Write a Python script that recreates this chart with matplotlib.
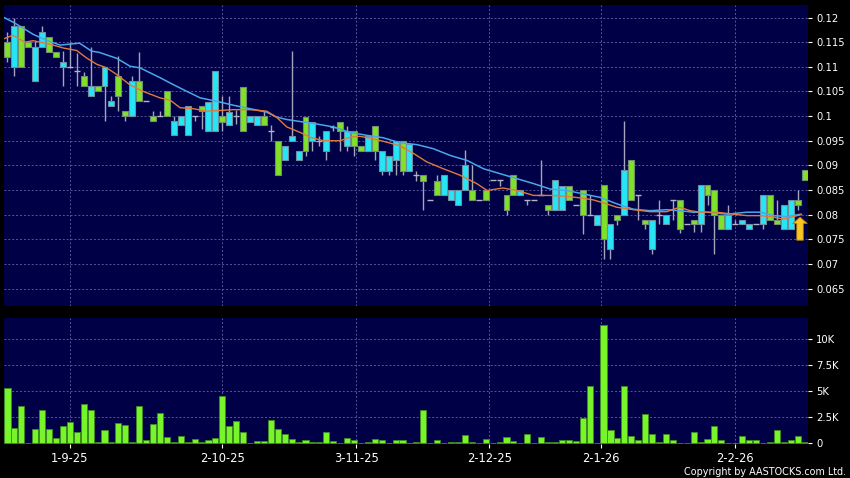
import numpy as np
import matplotlib
matplotlib.use('Agg')
import matplotlib.pyplot as plt

# daily prices (open, high, low, close)
opens = [0.1120, 0.1182, 0.1100, 0.1141, 0.1141, 0.1171, 0.1131, 0.1120, 0.1110, 0.1100,
         0.1091, 0.1061, 0.1061, 0.1051, 0.1100, 0.1031, 0.1041, 0.1000, 0.1071, 0.1031,
         0.1031, 0.0990, 0.1000, 0.1000, 0.0989, 0.1000, 0.1020, 0.1000, 0.1010, 0.1029,
         0.1091, 0.0988, 0.1009, 0.1000, 0.0970, 0.1000, 0.1000, 0.0981, 0.0970, 0.0880,
         0.0939, 0.0959, 0.0929, 0.0929, 0.0988, 0.0950, 0.0969, 0.0978, 0.0969, 0.0969,
         0.0939, 0.0929, 0.0959, 0.0929, 0.0929, 0.0918, 0.0949, 0.0889, 0.0944, 0.0880,
         0.0869, 0.0830, 0.0840, 0.0880, 0.0849, 0.0849, 0.0900, 0.0830, 0.0830, 0.0830,
         0.0871, 0.0871, 0.0810, 0.0840, 0.0850, 0.0830, 0.0830, 0.0840, 0.0810, 0.0871,
         0.0859, 0.0830, 0.0820, 0.0799, 0.0799, 0.0799, 0.0751, 0.0780, 0.0789, 0.0890,
         0.0830, 0.0840, 0.0780, 0.0789, 0.0800, 0.0800, 0.0830, 0.0771, 0.0780, 0.0780,
         0.0860, 0.0840, 0.0800, 0.0771, 0.0800, 0.0780, 0.0789, 0.0780, 0.0780, 0.0840,
         0.0789, 0.0780, 0.0820, 0.0830, 0.0820, 0.0871]
highs = [0.1171, 0.1200, 0.1182, 0.1151, 0.1152, 0.1182, 0.1161, 0.1131, 0.1132, 0.1151,
         0.1129, 0.1090, 0.1141, 0.1061, 0.1100, 0.1040, 0.1122, 0.1010, 0.1081, 0.1131,
         0.1031, 0.1010, 0.1010, 0.1051, 0.1000, 0.1000, 0.1020, 0.1000, 0.1020, 0.1029,
         0.1091, 0.1040, 0.1040, 0.1012, 0.1060, 0.1000, 0.1000, 0.1010, 0.0981, 0.0949,
         0.0939, 0.1132, 0.0929, 0.0998, 0.0988, 0.0959, 0.0969, 0.0981, 0.0988, 0.0980,
         0.0969, 0.0939, 0.0962, 0.0980, 0.0929, 0.0918, 0.0949, 0.0949, 0.0944, 0.0889,
         0.0880, 0.0830, 0.0880, 0.0880, 0.0849, 0.0849, 0.0931, 0.0900, 0.0830, 0.0849,
         0.0871, 0.0871, 0.0840, 0.0881, 0.0850, 0.0830, 0.0830, 0.0910, 0.0820, 0.0871,
         0.0859, 0.0859, 0.0820, 0.0850, 0.0840, 0.0799, 0.0860, 0.0780, 0.0800, 0.0989,
         0.0910, 0.0840, 0.0789, 0.0789, 0.0830, 0.0800, 0.0830, 0.0830, 0.0780, 0.0789,
         0.0860, 0.0860, 0.0850, 0.0800, 0.0820, 0.0789, 0.0789, 0.0780, 0.0780, 0.0840,
         0.0840, 0.0830, 0.0820, 0.0830, 0.0850, 0.0890]
lows = [0.1110, 0.1081, 0.1100, 0.1141, 0.1071, 0.1141, 0.1131, 0.1120, 0.1061, 0.1100,
        0.1061, 0.1061, 0.1041, 0.1051, 0.0989, 0.1020, 0.1010, 0.0989, 0.1000, 0.1031,
        0.1031, 0.0990, 0.1000, 0.1000, 0.0961, 0.0981, 0.0961, 0.0990, 0.0973, 0.0970,
        0.0970, 0.0970, 0.0981, 0.0984, 0.0970, 0.0988, 0.0981, 0.0981, 0.0950, 0.0880,
        0.0910, 0.0949, 0.0910, 0.0918, 0.0929, 0.0940, 0.0910, 0.0969, 0.0929, 0.0929,
        0.0920, 0.0929, 0.0929, 0.0910, 0.0880, 0.0880, 0.0880, 0.0880, 0.0889, 0.0869,
        0.0810, 0.0830, 0.0840, 0.0840, 0.0830, 0.0820, 0.0849, 0.0830, 0.0830, 0.0830,
        0.0871, 0.0859, 0.0800, 0.0840, 0.0840, 0.0820, 0.0830, 0.0840, 0.0800, 0.0810,
        0.0810, 0.0830, 0.0820, 0.0761, 0.0799, 0.0779, 0.0710, 0.0710, 0.0779, 0.0800,
        0.0830, 0.0789, 0.0770, 0.0721, 0.0780, 0.0780, 0.0789, 0.0762, 0.0780, 0.0765,
        0.0765, 0.0820, 0.0721, 0.0771, 0.0771, 0.0780, 0.0780, 0.0771, 0.0780, 0.0771,
        0.0789, 0.0780, 0.0771, 0.0771, 0.0810, 0.0871]
closes = [0.1151, 0.1100, 0.1182, 0.1151, 0.1071, 0.1141, 0.1161, 0.1131, 0.1100, 0.1100,
          0.1091, 0.1082, 0.1041, 0.1061, 0.1061, 0.1020, 0.1082, 0.1010, 0.1000, 0.1071,
          0.1031, 0.1000, 0.1000, 0.1051, 0.0961, 0.0981, 0.0961, 0.1000, 0.1020, 0.0970,
          0.0970, 0.1000, 0.0981, 0.1000, 0.1060, 0.0988, 0.0981, 0.1000, 0.0970, 0.0949,
          0.0910, 0.0949, 0.0910, 0.0998, 0.0949, 0.0950, 0.0929, 0.0978, 0.0988, 0.0939,
          0.0969, 0.0939, 0.0929, 0.0980, 0.0889, 0.0889, 0.0910, 0.0949, 0.0889, 0.0880,
          0.0880, 0.0830, 0.0869, 0.0840, 0.0830, 0.0820, 0.0849, 0.0849, 0.0830, 0.0849,
          0.0871, 0.0871, 0.0840, 0.0881, 0.0840, 0.0830, 0.0830, 0.0840, 0.0820, 0.0810,
          0.0810, 0.0859, 0.0820, 0.0850, 0.0799, 0.0779, 0.0860, 0.0731, 0.0800, 0.0800,
          0.0910, 0.0840, 0.0789, 0.0731, 0.0800, 0.0780, 0.0830, 0.0830, 0.0780, 0.0789,
          0.0780, 0.0860, 0.0850, 0.0800, 0.0771, 0.0780, 0.0780, 0.0771, 0.0780, 0.0780,
          0.0840, 0.0789, 0.0771, 0.0771, 0.0830, 0.0890]
volume = [5320, 1440, 3590, 50, 1380, 3200, 1380, 545, 1670, 2050,
          1120, 3780, 3200, 160, 1280, 130, 1920, 1760, 130, 3560,
          290, 1830, 2880, 670, 160, 740, 130, 420, 100, 290,
          510, 4520, 1700, 2150, 1120, 30, 220, 220, 2240, 1380,
          870, 450, 100, 290, 130, 130, 1060, 220, 0, 545,
          350, 0, 190, 420, 320, 0, 290, 290, 60, 100,
          3200, 0, 320, 0, 100, 100, 800, 100, 0, 420,
          0, 190, 610, 220, 0, 900, 0, 670, 190, 190,
          290, 380, 220, 2470, 5510, 0, 11350, 1250, 510, 5480,
          700, 290, 2790, 900, 100, 930, 290, 40, 0, 1060,
          190, 420, 1700, 290, 60, 0, 700, 290, 290, 60,
          130, 1250, 100, 290, 740, 130]

# moving averages, read at sample positions (bar index)
ma_long_x = [-0.5, 0.9, 3.7, 5.6, 7.6, 10.4, 12.1, 13.3, 15.8, 17.7, 19.1, 22.0, 23.9, 25.9,
             27.8, 30.2, 32.6, 35.0, 37.4, 38.8, 40.3, 42.2, 44.6, 47.0, 49.4, 51.8, 54.2,
             56.6, 59.1, 61.4, 63.9, 66.3, 68.7, 71.1, 73.5, 75.9, 78.3, 80.7, 83.1, 85.5,
             87.9, 90.3, 92.7, 95.1, 97.0, 98.9, 100.9, 103.8, 106.7, 108.6, 110.5, 112.4, 114.5]
ma_long = [0.1200, 0.1190, 0.1166, 0.1154, 0.1144, 0.1148, 0.1132, 0.1129, 0.1117, 0.1101,
           0.1098, 0.1078, 0.1064, 0.1050, 0.1037, 0.1030, 0.1022, 0.1015, 0.1008, 0.0998,
           0.0993, 0.0989, 0.0984, 0.0978, 0.0967, 0.0961, 0.0956, 0.0946, 0.0942, 0.0934,
           0.0920, 0.0910, 0.0893, 0.0883, 0.0873, 0.0863, 0.0852, 0.0849, 0.0842, 0.0835,
           0.0822, 0.0811, 0.0808, 0.0810, 0.0808, 0.0805, 0.0805, 0.0801, 0.0805, 0.0805,
           0.0798, 0.0796, 0.0801]
ma_short_x = [-0.5, 0.8, 2.5, 3.7, 6.1, 8.1, 10.0, 11.4, 12.9, 14.3, 15.8, 17.7, 19.6, 22.0,
              23.5, 24.9, 26.8, 28.7, 30.2, 32.6, 35.0, 37.4, 38.8, 40.3, 42.2, 43.7, 45.6,
              48.0, 49.4, 50.8, 52.8, 54.7, 56.6, 58.6, 60.5, 62.9, 65.3, 67.7, 69.2, 71.5,
              73.5, 75.9, 78.3, 80.7, 82.6, 84.5, 86.2, 87.9, 90.3, 92.7, 95.1, 96.1, 97.0,
              98.5, 99.9, 102.3, 104.7, 106.7, 108.6, 110.5, 111.9, 113.4, 114.5]
ma_short = [0.1157, 0.1164, 0.1150, 0.1153, 0.1146, 0.1138, 0.1133, 0.1118, 0.1105, 0.1098,
            0.1084, 0.1063, 0.1050, 0.1037, 0.1032, 0.1017, 0.1015, 0.1010, 0.1011, 0.1013,
            0.1013, 0.1010, 0.0998, 0.0978, 0.0967, 0.0957, 0.0950, 0.0950, 0.0957, 0.0959,
            0.0954, 0.0947, 0.0940, 0.0924, 0.0907, 0.0893, 0.0880, 0.0863, 0.0849, 0.0854,
            0.0849, 0.0839, 0.0839, 0.0837, 0.0834, 0.0830, 0.0823, 0.0815, 0.0810, 0.0806,
            0.0806, 0.0811, 0.0815, 0.0808, 0.0805, 0.0805, 0.0801, 0.0798, 0.0798, 0.0795,
            0.0791, 0.0796, 0.0800]

date_pos = [9, 31, 50.3, 69.5, 85.6, 104.9]
date_labels = ['1-9-25', '2-10-25', '3-11-25', '2-12-25', '2-1-26', '2-2-26']
price_ticks = [0.065, 0.07, 0.075, 0.08, 0.085, 0.09, 0.095, 0.1, 0.105, 0.11, 0.115, 0.12]
price_labels = ['0.065', '0.07', '0.075', '0.08', '0.085', '0.09', '0.095', '0.1',
                '0.105', '0.11', '0.115', '0.12']
vol_ticks = [0, 2500, 5000, 7500, 10000]
vol_labels = ['0', '2.5K', '5K', '7.5K', '10K']

o = np.array(opens); h = np.array(highs); l = np.array(lows); c = np.array(closes)
idx = np.arange(len(o))
up = c > o
down = c < o
flat = c == o

bg = '#000046'
grid_kw = dict(color='#56569a', lw=0.7, ls=(0, (2, 2)))

fig = plt.figure(figsize=(8.5, 4.78), dpi=100)
fig.patch.set_facecolor('black')
ax = fig.add_axes([4/850, 1-306/478, 804/850, 301/478])
axv = fig.add_axes([4/850, 1-444/478, 804/850, 126/478])

for a in (ax, axv):
    a.set_facecolor(bg)
    for s in a.spines.values():
        s.set_visible(False)
    a.set_xlim(-0.5, 115.5)
    a.yaxis.tick_right()
    a.tick_params(axis='y', colors='white', labelsize=7.2, length=3, pad=3)
    a.set_axisbelow(True)
    for xp in date_pos:
        a.axvline(xp, zorder=0, **grid_kw)

# price panel
ax.set_ylim(0.06146, 0.12254)
ax.set_yticks(price_ticks)
ax.set_yticklabels(price_labels)
for yp in price_ticks:
    ax.axhline(yp, zorder=0, **grid_kw)
ax.set_xticks([])

bw = 0.86
ax.vlines(idx, l, h, color='#a4a4bc', lw=1, zorder=2)
ax.bar(idx[up], (c - o)[up], bottom=o[up], width=bw, color='#7fe228',
       edgecolor='#6f8f6f', lw=0.8, zorder=3)
ax.bar(idx[down], (o - c)[down], bottom=c[down], width=bw, color='#26e6f6',
       edgecolor='#6f8fa0', lw=0.8, zorder=3)
ax.hlines(c[flat], idx[flat] - bw/2, idx[flat] + bw/2, color='#b4b4c8', lw=1, zorder=3)

ax.plot(ma_long_x, ma_long, color='#4aa6ea', lw=1.1, zorder=4)
ax.plot(ma_short_x, ma_short, color='#e07a3c', lw=1.0, zorder=4)

# marker arrow on the last bar
ax.arrow(114.35, 0.0748, 0, 0.0047, width=0.95, head_width=2.1, head_length=0.0013,
         length_includes_head=True, fc='#f6c425', ec='#a87a08', lw=0.6, zorder=6)

# volume panel
axv.set_ylim(-50, 12050)
axv.set_yticks(vol_ticks)
axv.set_yticklabels(vol_labels)
for yp in vol_ticks[1:]:
    axv.axhline(yp, zorder=0, **grid_kw)
axv.bar(idx, volume, width=0.88, color='#78f52a', edgecolor='#3f8a22', lw=0.6, zorder=3)
axv.set_xticks(date_pos)
axv.set_xticklabels(date_labels)
axv.tick_params(axis='x', colors='white', labelsize=8.3, length=3, pad=3)
for t in axv.get_xticklines():
    t.set_color('#909090')

fig.text(846/850, 1-472/478, 'Copyright by AASTOCKS.com Ltd.', color='white',
         fontsize=6.9, ha='right', va='center')

fig.savefig('out.png', dpi=100, facecolor=fig.get_facecolor())
